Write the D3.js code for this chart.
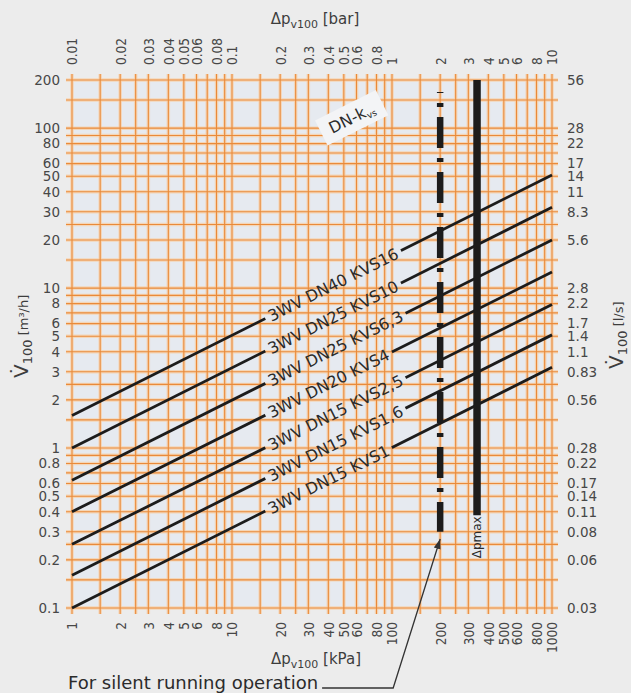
<!DOCTYPE html>
<html>
<head>
<meta charset="utf-8">
<script src="https://cdn.jsdelivr.net/npm/d3@7"></script>
<style>
  html, body { margin: 0; padding: 0; background: #ececec; }
  svg { display: block; font-family: "DejaVu Sans", sans-serif; }
</style>
</head>
<body>
<div id="chart"></div>
<script>
// kv lines: flow V100 [m3/h] at 1 kPa and at 1000 kPa
const lineLabels = ["3WV DN15 KVS1", "3WV DN15 KVS1,6", "3WV DN15 KVS2,5", "3WV DN20 KVS4",
                    "3WV DN25 KVS6,3", "3WV DN25 KVS10", "3WV DN40 KVS16"];
const flowAtStart = [0.1, 0.16, 0.25, 0.4, 0.63, 1.0, 1.6];
const flowAtEnd = [3.2, 5.1, 7.9, 12.6, 20, 32, 51];
const pressureRange = [1, 1000];        // kPa
const flowRange = [0.1, 200];           // m3/h
const labelStartKPa = 17;

// axis ticks
const bottomTicks = [1, 2, 3, 4, 5, 6, 8, 10, 20, 30, 40, 50, 60, 80, 100, 200, 300, 400, 500, 600, 800, 1000];
const topTicks = [0.01, 0.02, 0.03, 0.04, 0.05, 0.06, 0.08, 0.1, 0.2, 0.3, 0.4, 0.5, 0.6, 0.8, 1, 2, 3, 4, 5, 6, 8, 10];
const leftTicks = [0.1, 0.2, 0.3, 0.4, 0.5, 0.6, 0.8, 1, 2, 3, 4, 5, 6, 8, 10, 20, 30, 40, 50, 60, 80, 100, 200];
const rightLabels = ["0.03", "0.06", "0.08", "0.11", "0.14", "0.17", "0.22", "0.28", "0.56", "0.83", "1.1", "1.4",
                     "1.7", "2.2", "2.8", "5.6", "8.3", "11", "14", "17", "22", "28", "56"];
const gridSteps = [1, 1.5, 2, 2.5, 3, 4, 5, 6, 7, 8, 9];

// vertical limit lines: [kPa, flow top, flow bottom]
const silentLine = [200, 168, 0.3];
const maxLine = [340, 200, 0.38];
const arrowTipFlow = 0.27;

const width = 631, height = 693;
const margin = { top: 80, right: 79, bottom: 85, left: 72 };

const x = d3.scaleLog().domain(pressureRange).range([margin.left, width - margin.right]);
const xBar = d3.scaleLog().domain([0.01, 10]).range(x.range());
const y = d3.scaleLog().domain(flowRange).range([height - margin.bottom, margin.top]);

const svg = d3.select("#chart").append("svg")
    .attr("width", width)
    .attr("height", height)
    .attr("viewBox", [0, 0, width, height]);

svg.append("rect").attr("width", width).attr("height", height).attr("fill", "#ececec");

// plot background
svg.append("rect")
    .attr("x", x(1)).attr("y", y(200))
    .attr("width", x(1000) - x(1)).attr("height", y(0.1) - y(200))
    .attr("fill", "#e6eaf0");

// grid
const xGrid = [1, 10, 100].flatMap(d => gridSteps.map(s => s * d)).concat([1000]);
const yGrid = [0.1, 1, 10, 100].flatMap(d => gridSteps.map(s => s * d)).filter(v => v <= 200.001);
const ext = 6;
const grid = svg.append("g");
for (const [stroke, sw, op] of [["#f8cfa6", 3.5, 0.75], ["#e98a3a", 1.1, 1]]) {
  const g = grid.append("g").attr("stroke", stroke).attr("stroke-width", sw).attr("stroke-opacity", op);
  g.selectAll(".v").data(xGrid).join("line")
      .attr("x1", d => x(d)).attr("x2", d => x(d))
      .attr("y1", y(200) - ext).attr("y2", y(0.1) + ext);
  g.selectAll(".h").data(yGrid).join("line")
      .attr("y1", d => y(d)).attr("y2", d => y(d))
      .attr("x1", x(1) - ext).attr("x2", x(1000) + ext);
}

// axes
const tickColor = "#474747";
const condensed = g => g.selectAll("text")
    .attr("font-family", "'DejaVu Sans Condensed', 'DejaVu Sans'")
    .attr("font-stretch", "condensed")
    .attr("font-size", 13.5).attr("fill", tickColor);

svg.append("g")
    .attr("transform", `translate(0,${y(0.1)})`)
    .call(d3.axisBottom(x).tickValues(bottomTicks).tickFormat(d => d).tickSize(0))
    .call(g => g.select(".domain").remove())
    .call(condensed)
    .call(g => g.selectAll("text")
        .attr("transform", "rotate(-90)")
        .attr("x", -14).attr("y", 0).attr("dy", "0.36em")
        .attr("text-anchor", "end"));

svg.append("g")
    .attr("transform", `translate(0,${y(200)})`)
    .call(d3.axisTop(xBar).tickValues(topTicks).tickFormat(d => d).tickSize(0))
    .call(g => g.select(".domain").remove())
    .call(condensed)
    .call(g => g.selectAll("text")
        .attr("transform", "rotate(-90)")
        .attr("x", 15).attr("y", 0).attr("dy", "0.36em")
        .attr("text-anchor", "start"));

svg.append("g")
    .attr("transform", `translate(${x(1)},0)`)
    .call(d3.axisLeft(y).tickValues(leftTicks).tickFormat(d => d).tickSize(0).tickPadding(12))
    .call(g => g.select(".domain").remove())
    .call(g => g.selectAll("text").attr("font-size", 13.5).attr("fill", tickColor)
        .attr("font-family", "'DejaVu Sans'"));

svg.append("g")
    .attr("transform", `translate(${x(1000)},0)`)
    .call(d3.axisRight(y).tickValues(leftTicks).tickFormat((d, i) => rightLabels[i]).tickSize(0).tickPadding(15))
    .call(g => g.select(".domain").remove())
    .call(g => g.selectAll("text").attr("font-size", 13.5).attr("fill", tickColor)
        .attr("font-family", "'DejaVu Sans'"));

// axis titles
const titleColor = "#3d3d3d";
function pTitle(sel, unit) {
  sel.append("tspan").attr("font-size", 15).text("Δp");
  sel.append("tspan").attr("font-size", 11).attr("dy", 4).text("v100");
  sel.append("tspan").attr("font-size", 15).attr("dy", -4).text(" " + unit);
}
svg.append("text").attr("x", 315).attr("y", 24).attr("text-anchor", "middle")
    .attr("fill", titleColor).call(pTitle, "[bar]");
svg.append("text").attr("x", 316).attr("y", 664).attr("text-anchor", "middle")
    .attr("fill", titleColor).call(pTitle, "[kPa]");

function vTitle(sel, unit) {
  sel.append("tspan").attr("font-size", 20).text("V\u0307");
  sel.append("tspan").attr("font-size", 13).attr("dy", 4).text("100");
  sel.append("tspan").attr("font-size", 13).attr("dy", -4).text(" " + unit);
}
svg.append("text").attr("transform", "translate(28,378) rotate(-90)")
    .attr("fill", titleColor).call(vTitle, "[m³/h]");
svg.append("text").attr("transform", "translate(623,369) rotate(-90)")
    .attr("fill", titleColor).call(vTitle, "[l/s]");

// kv lines with gaps for labels
const lines = lineLabels.map((label, i) => ({
  label,
  pts: [[pressureRange[0], flowAtStart[i]], [pressureRange[1], flowAtEnd[i]]]
}));
const angle = d3.mean(lines, d =>
  Math.atan2(y(d.pts[1][1]) - y(d.pts[0][1]), x(d.pts[1][0]) - x(d.pts[0][0]))) * 180 / Math.PI;

const labelPos = d => {
  const [[p0, v0], [p1, v1]] = d.pts;
  const t = Math.log(labelStartKPa / p0) / Math.log(p1 / p0);
  const v = Math.exp(Math.log(v0) + t * Math.log(v1 / v0));
  return [x(labelStartKPa), y(v)];
};

const mask = svg.append("defs").append("mask").attr("id", "lblgap")
    .attr("maskUnits", "userSpaceOnUse").attr("x", 0).attr("y", 0)
    .attr("width", width).attr("height", height);
mask.append("rect").attr("width", width).attr("height", height).attr("fill", "#fff");

const line = d3.line().x(d => x(d[0])).y(d => y(d[1]));
svg.append("g")
    .attr("mask", "url(#lblgap)")
  .selectAll("path").data(lines).join("path")
    .attr("d", d => line(d.pts))
    .attr("fill", "none")
    .attr("stroke", "#1c1c1c")
    .attr("stroke-width", 2.8);

const labels = svg.append("g")
  .selectAll("text").data(lines).join("text")
    .attr("transform", d => `translate(${labelPos(d)}) rotate(${angle})`)
    .attr("dy", "0.36em")
    .attr("font-size", 16)
    .attr("fill", "#2b2b2b")
    .text(d => d.label);

labels.each(function(d) {
  const len = this.getComputedTextLength();
  mask.append("rect")
      .attr("transform", `translate(${labelPos(d)}) rotate(${angle})`)
      .attr("x", -4).attr("y", -8).attr("width", len + 8).attr("height", 16)
      .attr("fill", "#000");
});

// DN-kvs label
const dnLabel = svg.append("g")
    .attr("transform", `translate(${x(56)},${y(116)}) rotate(${angle})`);
dnLabel.append("rect")
    .attr("x", -34).attr("y", -14).attr("width", 68).attr("height", 28)
    .attr("fill", "#f3f4f6");
const dnText = dnLabel.append("text").attr("text-anchor", "middle").attr("dy", "0.36em")
    .attr("fill", "#2b2b2b");
dnText.append("tspan").attr("font-size", 16).text("DN-k");
dnText.append("tspan").attr("font-size", 9).attr("dy", 3).text("vs");

// silent running line (dash-dot)
const yTop = y(silentLine[1]);
svg.append("line")
    .attr("x1", x(silentLine[0])).attr("x2", x(silentLine[0]))
    .attr("y1", yTop).attr("y2", y(silentLine[2]))
    .attr("stroke", "#1c1c1c").attr("stroke-width", 6.5)
    .attr("stroke-dasharray", "4,10,31,10")
    .attr("stroke-dashoffset", 55 - 11);

// max pressure line
svg.append("line")
    .attr("x1", x(maxLine[0])).attr("x2", x(maxLine[0]))
    .attr("y1", y(maxLine[1])).attr("y2", y(maxLine[2]))
    .attr("stroke", "#1c1c1c").attr("stroke-width", 7.5);

svg.append("text")
    .attr("transform", `translate(${x(maxLine[0])},${y(maxLine[2]) + 1}) rotate(-90)`)
    .attr("text-anchor", "end").attr("dy", "0.36em")
    .attr("font-size", 12).attr("fill", "#2b2b2b")
    .text("Δpmax");

// note + leader arrow
const note = svg.append("text")
    .attr("x", 68).attr("y", 689)
    .attr("font-size", 18).attr("fill", "#2b2b2b")
    .text("For silent running operation");
const noteEnd = 68 + note.node().getComputedTextLength();

svg.select("defs").append("marker")
    .attr("id", "arrow").attr("viewBox", "0 0 10 10")
    .attr("refX", 10).attr("refY", 5)
    .attr("markerWidth", 10).attr("markerHeight", 10)
    .attr("markerUnits", "userSpaceOnUse")
    .attr("orient", "auto")
  .append("path").attr("d", "M0,1.5L10,5L0,8.5Z").attr("fill", "#333");

const tip = [x(silentLine[0]), y(arrowTipFlow)];
svg.append("path")
    .attr("d", d3.line()([[noteEnd + 4, 688], [tip[0] - 47, 688], tip]))
    .attr("fill", "none").attr("stroke", "#333").attr("stroke-width", 1.3)
    .attr("marker-end", "url(#arrow)");
</script>
</body>
</html>
